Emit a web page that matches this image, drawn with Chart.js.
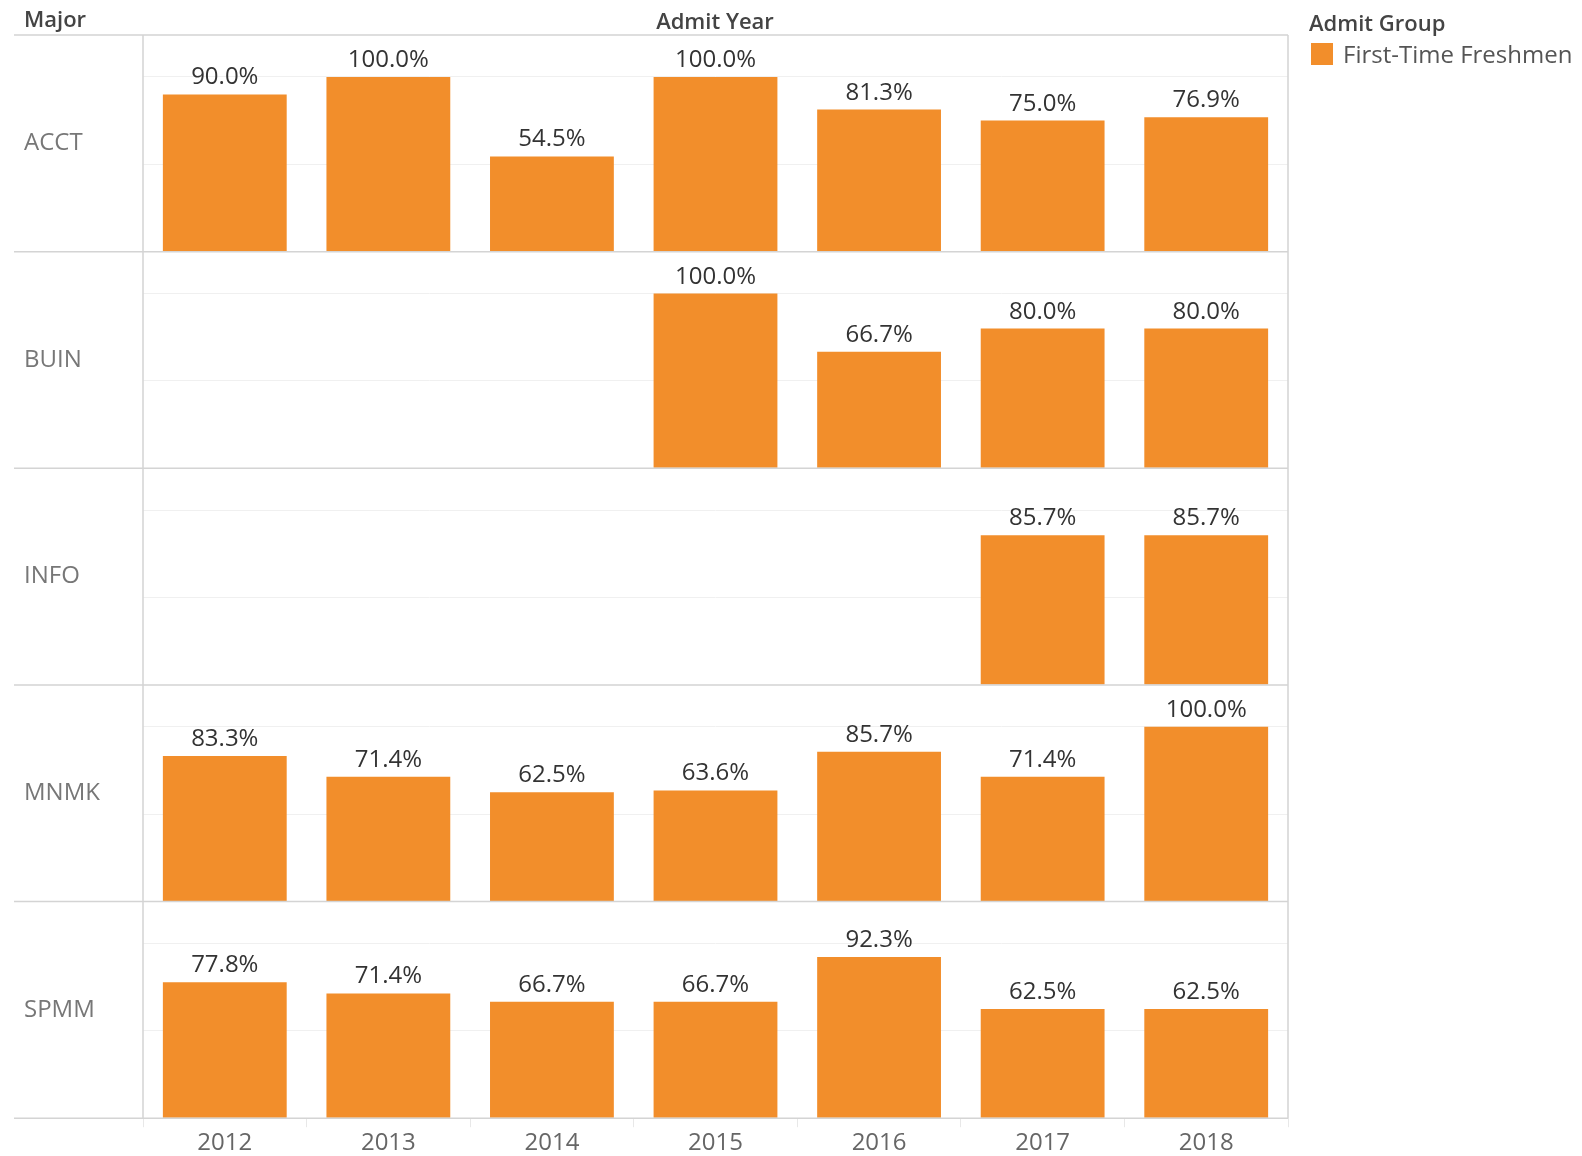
<!DOCTYPE html>
<html>
<head>
<meta charset="utf-8">
<style>
  body { margin: 0; background: #fff; font-family: "Open Sans", sans-serif; overflow: hidden; }
  #wrap { position: relative; width: 1582px; height: 1156px; overflow: hidden; }
  canvas { position: absolute; left: 0; top: 0; }
  .hdr { position: absolute; font-weight: 600; font-size: 22px; color: #444; white-space: nowrap; }
  .leg { position: absolute; font-size: 24px; color: #555; white-space: nowrap; }
  .sw { position: absolute; width: 22px; height: 22px; background: #f28e2b; }
</style>
</head>
<body>
<div id="wrap">
  <canvas id="myChart" width="1582" height="1160"></canvas>
  <div class="hdr" style="left:24px; top:3px;">Major</div>
  <div class="hdr" style="left:715px; top:5px; transform:translateX(-50%);">Admit Year</div>
  <div class="hdr" style="left:1309px; top:7px;">Admit Group</div>
  <div class="sw" style="left:1311px; top:43px;"></div>
  <div class="leg" style="left:1343px; top:37px;">First-Time Freshmen</div>
</div>

<script src="https://cdn.jsdelivr.net/npm/chart.js"></script>

<script>
  const years = ['2012', '2013', '2014', '2015', '2016', '2017', '2018'];
  const majors = ['ACCT', 'BUIN', 'INFO', 'MNMK', 'SPMM'];

  const acct = [90.0, 100.0, 54.5, 100.0, 81.3, 75.0, 76.9];
  const buin = [null, null, null, 100.0, 66.7, 80.0, 80.0];
  const info = [null, null, null, null, null, 85.7, 85.7];
  const mnmk = [83.3, 71.4, 62.5, 63.6, 85.7, 71.4, 100.0];
  const spmm = [77.8, 71.4, 66.7, 66.7, 92.3, 62.5, 62.5];

  const rows = [acct, buin, info, mnmk, spmm];
  const orange = '#f28e2b';
  const font = '"Open Sans", sans-serif';

  // one y axis per major, stacked on top of each other
  // (stacked axes are placed bottom-up, so add them in reverse)
  const scales = {
    x: {
      type: 'category',
      labels: years,
      grid: { offset: true, drawOnChartArea: false, drawTicks: true, tickLength: 9, color: '#e8e8e8' },
      border: { display: false },
      ticks: { color: '#666', padding: 2, font: { family: font, size: 24 } }
    }
  };
  for (let i = majors.length - 1; i >= 0; i--) {
    scales['y' + i] = {
      type: 'linear',
      position: 'left',
      stack: 'rows',
      stackWeight: 1,
      min: 0,
      max: 124,
      ticks: { display: false, stepSize: 50 },
      border: { display: false },
      grid: {
        drawTicks: false,
        color: (c) => (c.tick && (c.tick.value === 50 || c.tick.value === 100)) ? '#f0f0f0' : 'rgba(0,0,0,0)'
      }
    };
  }

  const panelLines = {
    id: 'panelLines',
    afterDatasetsDraw(chart) {
      const ctx = chart.ctx;
      const area = chart.chartArea;
      ctx.save();
      ctx.strokeStyle = '#d4d4d4';
      ctx.lineWidth = 1.5;
      ctx.beginPath();
      ctx.moveTo(14, area.top);
      ctx.lineTo(area.right, area.top);
      majors.forEach((m, i) => {
        const s = chart.scales['y' + i];
        const yb = s.getPixelForValue(0);
        ctx.moveTo(14, yb);
        ctx.lineTo(area.right, yb);
      });
      ctx.moveTo(area.left, area.top);
      ctx.lineTo(area.left, area.bottom);
      ctx.moveTo(area.right, area.top);
      ctx.lineTo(area.right, area.bottom);
      ctx.stroke();

      // row labels
      ctx.fillStyle = '#777';
      ctx.font = '24px ' + font;
      ctx.textAlign = 'left';
      ctx.textBaseline = 'middle';
      majors.forEach((m, i) => {
        const s = chart.scales['y' + i];
        ctx.fillText(m, 24, (s.top + s.bottom) / 2);
      });

      // value labels above bars
      ctx.fillStyle = '#333';
      ctx.font = '24px ' + font;
      ctx.textAlign = 'center';
      ctx.textBaseline = 'alphabetic';
      chart.data.datasets.forEach((ds, di) => {
        const meta = chart.getDatasetMeta(di);
        meta.data.forEach((el, j) => {
          const v = ds.data[j];
          if (v === null) return;
          ctx.fillText(v.toFixed(1) + '%', el.x, el.y - 10);
        });
      });
      ctx.restore();
    }
  };

  new Chart(document.getElementById('myChart'), {
    type: 'bar',
    data: {
      labels: years,
      datasets: rows.map((r, i) => ({
        label: majors[i],
        data: r,
        yAxisID: 'y' + i,
        backgroundColor: orange,
        grouped: false,
        barPercentage: 0.757,
        categoryPercentage: 1
      }))
    },
    options: {
      responsive: false,
      animation: false,
      layout: {
        padding: { left: 143, right: 294, top: 35, bottom: 0 }
      },
      plugins: {
        legend: { display: false },
        tooltip: { enabled: false }
      },
      scales: scales
    },
    plugins: [panelLines]
  });
</script>
</body>
</html>
